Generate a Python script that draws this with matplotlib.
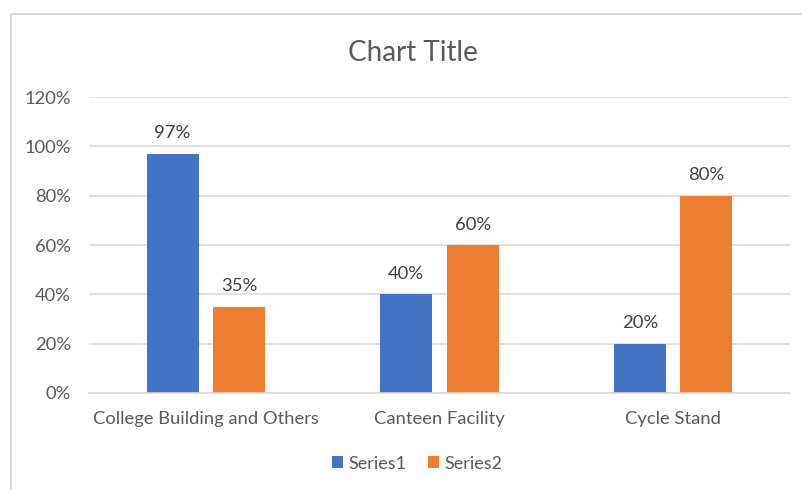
import matplotlib.pyplot as plt
import numpy as np
from matplotlib.patches import Rectangle
from matplotlib.ticker import PercentFormatter

# Chart data

categories = ["College Building and Others", "Canteen Facility", "Cycle Stand"]
series1 = [97, 40, 20]
series2 = [35, 60, 80]
series_names = ["Series1", "Series2"]
y_ticks = [0, 20, 40, 60, 80, 100, 120]

BLUE = "#4472c4"
ORANGE = "#ed7d31"
TEXT = "#595959"
GRID = "#d9d9d9"

plt.rcParams["font.family"] = ["Lato", "DejaVu Sans"]

fig = plt.figure(figsize=(8.03, 4.90), dpi=100)
ax = fig.add_axes([0.1108, 0.198, 0.873, 0.604])

# outer chart border (Excel style)
fig.patches.append(Rectangle((11 / 803, -0.05), 1.0, 0.9714 + 0.05,
                             transform=fig.transFigure, fill=False,
                             edgecolor=GRID, linewidth=1.5))

x = np.arange(len(categories))
width = 0.223
offset = 0.142

bars1 = ax.bar(x - offset, series1, width, color=BLUE, label=series_names[0])
bars2 = ax.bar(x + offset, series2, width, color=ORANGE, label=series_names[1])

for bars in (bars1, bars2):
    for bar in bars:
        ax.annotate(f"{bar.get_height():.0f}%",
                    (bar.get_x() + bar.get_width() / 2, bar.get_height()),
                    xytext=(0, 9), textcoords="offset points",
                    ha="center", va="bottom", fontsize=13.3, color="#404040")

ax.set_xlim(-0.5, len(categories) - 0.5)
ax.set_ylim(0, 120)
ax.set_yticks(y_ticks)
ax.yaxis.set_major_formatter(PercentFormatter(decimals=0))
ax.set_xticks(x)
ax.set_xticklabels(categories)

ax.grid(axis="y", color=GRID, linewidth=1.2)
ax.set_axisbelow(True)
for side in ("top", "right", "left"):
    ax.spines[side].set_visible(False)
ax.spines["bottom"].set_color(GRID)
ax.spines["bottom"].set_linewidth(1.2)
ax.tick_params(axis="both", length=0, colors=TEXT, labelsize=13.2)
ax.tick_params(axis="y", pad=13)
ax.tick_params(axis="x", pad=13)

fig.text(0.514, 0.892, "Chart Title", ha="center", va="center",
         fontsize=20, color=TEXT)

fig.legend(loc="center", bbox_to_anchor=(0.52, 0.054), ncol=2, frameon=False,
           fontsize=13, labelcolor=TEXT, handlelength=0.6, handleheight=0.6,
           handletextpad=0.3, columnspacing=1.2)

fig.savefig("out.png", dpi=100)
